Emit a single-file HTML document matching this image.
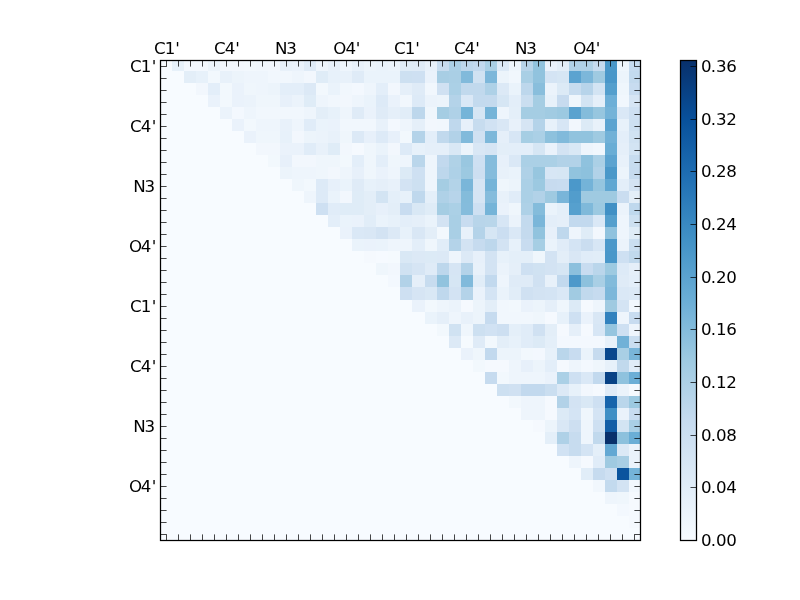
<!DOCTYPE html>
<html lang="en"><head><meta charset="utf-8"><title>heatmap</title>
<style>
html,body{margin:0;padding:0;background:#fff;width:800px;height:600px;overflow:hidden}
svg{display:block}
text{font-family:"DejaVu Sans","Liberation Sans",sans-serif;font-size:16.67px;fill:#000}
.c{shape-rendering:crispEdges}
.t{stroke:#000;stroke-width:1.00;stroke-opacity:0.72;fill:none}
.f{stroke:#000;stroke-width:1.25;fill:none;stroke-linecap:square}
</style></head><body>
<svg width="800" height="600" viewBox="0 0 800 600">
<rect width="800" height="600" fill="#fff"/>
<g class="c">
<rect x="160" y="59" width="481" height="482" fill="#f7fbff"/>
<rect x="172" y="59" width="12" height="12" fill="#e7f1fa"/><rect x="184" y="59" width="24" height="12" fill="#f3f8fe"/><rect x="208" y="59" width="12" height="12" fill="#ecf4fb"/><rect x="220" y="59" width="24" height="12" fill="#f2f7fd"/><rect x="244" y="59" width="12" height="12" fill="#f2f8fd"/><rect x="256" y="59" width="12" height="12" fill="#f1f7fd"/><rect x="268" y="59" width="12" height="12" fill="#f2f7fd"/><rect x="280" y="59" width="12" height="12" fill="#e8f1fa"/><rect x="292" y="59" width="12" height="12" fill="#eaf2fb"/><rect x="304" y="59" width="12" height="12" fill="#dfebf7"/><rect x="316" y="59" width="12" height="12" fill="#eef5fc"/><rect x="328" y="59" width="12" height="12" fill="#e8f1fa"/><rect x="340" y="59" width="12" height="12" fill="#eef5fc"/><rect x="352" y="59" width="12" height="12" fill="#e8f1fa"/><rect x="364" y="59" width="12" height="12" fill="#ecf4fb"/><rect x="376" y="59" width="12" height="12" fill="#eaf3fb"/><rect x="388" y="59" width="12" height="12" fill="#ecf4fb"/><rect x="400" y="59" width="12" height="12" fill="#dfecf7"/><rect x="412" y="59" width="13" height="12" fill="#dfebf7"/><rect x="425" y="59" width="12" height="12" fill="#e8f1fa"/><rect x="437" y="59" width="12" height="12" fill="#c7dcef"/><rect x="449" y="59" width="12" height="12" fill="#abd0e6"/><rect x="461" y="59" width="12" height="12" fill="#bdd7ec"/><rect x="473" y="59" width="12" height="12" fill="#c2d9ee"/><rect x="485" y="59" width="12" height="12" fill="#a9cfe5"/><rect x="497" y="59" width="12" height="12" fill="#ddeaf7"/><rect x="509" y="59" width="12" height="12" fill="#eff6fc"/><rect x="521" y="59" width="12" height="12" fill="#b7d4ea"/><rect x="533" y="59" width="12" height="12" fill="#91c3de"/><rect x="545" y="59" width="12" height="12" fill="#eaf2fb"/><rect x="557" y="59" width="12" height="12" fill="#e3eef8"/><rect x="569" y="59" width="24" height="12" fill="#afd1e7"/><rect x="593" y="59" width="12" height="12" fill="#c6dbef"/><rect x="605" y="59" width="12" height="12" fill="#4a98c9"/><rect x="617" y="59" width="12" height="12" fill="#eff6fc"/><rect x="629" y="59" width="12" height="12" fill="#c6dbef"/>
<rect x="184" y="71" width="12" height="12" fill="#e3eef8"/><rect x="196" y="71" width="12" height="12" fill="#e7f1fa"/><rect x="208" y="71" width="12" height="12" fill="#f2f8fd"/><rect x="220" y="71" width="12" height="12" fill="#e8f1fa"/><rect x="232" y="71" width="12" height="12" fill="#ecf4fb"/><rect x="244" y="71" width="24" height="12" fill="#eef5fc"/><rect x="268" y="71" width="24" height="12" fill="#f1f7fd"/><rect x="292" y="71" width="12" height="12" fill="#eef5fc"/><rect x="304" y="71" width="12" height="12" fill="#f2f7fd"/><rect x="316" y="71" width="12" height="12" fill="#dfecf7"/><rect x="328" y="71" width="12" height="12" fill="#e7f1fa"/><rect x="340" y="71" width="12" height="12" fill="#e8f1fa"/><rect x="352" y="71" width="12" height="12" fill="#dfebf7"/><rect x="364" y="71" width="36" height="12" fill="#eaf3fb"/><rect x="400" y="71" width="12" height="12" fill="#cde0f1"/><rect x="412" y="71" width="13" height="12" fill="#cee0f2"/><rect x="425" y="71" width="12" height="12" fill="#eaf2fb"/><rect x="437" y="71" width="12" height="12" fill="#a8cee4"/><rect x="449" y="71" width="12" height="12" fill="#aacfe5"/><rect x="461" y="71" width="12" height="12" fill="#81badb"/><rect x="473" y="71" width="12" height="12" fill="#d0e2f2"/><rect x="485" y="71" width="12" height="12" fill="#7cb7da"/><rect x="497" y="71" width="12" height="12" fill="#ecf4fb"/><rect x="509" y="71" width="12" height="12" fill="#f1f7fd"/><rect x="521" y="71" width="12" height="12" fill="#a9cfe5"/><rect x="533" y="71" width="12" height="12" fill="#91c3de"/><rect x="545" y="71" width="12" height="12" fill="#d4e4f4"/><rect x="557" y="71" width="12" height="12" fill="#d6e6f4"/><rect x="569" y="71" width="12" height="12" fill="#5ba3d0"/><rect x="581" y="71" width="12" height="12" fill="#7cb7da"/><rect x="593" y="71" width="12" height="12" fill="#9fcae1"/><rect x="605" y="71" width="12" height="12" fill="#4997c9"/><rect x="617" y="71" width="12" height="12" fill="#ecf4fb"/><rect x="629" y="71" width="12" height="12" fill="#c3daee"/>
<rect x="196" y="83" width="12" height="12" fill="#f2f7fd"/><rect x="208" y="83" width="12" height="12" fill="#e3eef9"/><rect x="220" y="83" width="12" height="12" fill="#f2f8fd"/><rect x="232" y="83" width="12" height="12" fill="#eaf2fb"/><rect x="244" y="83" width="12" height="12" fill="#eff6fc"/><rect x="256" y="83" width="12" height="12" fill="#eef5fc"/><rect x="268" y="83" width="12" height="12" fill="#ecf4fb"/><rect x="280" y="83" width="24" height="12" fill="#e3eef9"/><rect x="304" y="83" width="12" height="12" fill="#dce9f6"/><rect x="316" y="83" width="12" height="12" fill="#f2f8fd"/><rect x="328" y="83" width="12" height="12" fill="#eaf3fb"/><rect x="340" y="83" width="12" height="12" fill="#f1f7fd"/><rect x="352" y="83" width="12" height="12" fill="#f3f8fe"/><rect x="364" y="83" width="12" height="12" fill="#eef5fc"/><rect x="376" y="83" width="12" height="12" fill="#e3eef9"/><rect x="388" y="83" width="12" height="12" fill="#f2f7fd"/><rect x="400" y="83" width="12" height="12" fill="#e5eff9"/><rect x="412" y="83" width="13" height="12" fill="#dfebf7"/><rect x="425" y="83" width="12" height="12" fill="#f1f7fd"/><rect x="437" y="83" width="12" height="12" fill="#d0e1f2"/><rect x="449" y="83" width="12" height="12" fill="#abd0e6"/><rect x="461" y="83" width="24" height="12" fill="#c1d9ed"/><rect x="485" y="83" width="12" height="12" fill="#aed1e7"/><rect x="497" y="83" width="12" height="12" fill="#dce9f6"/><rect x="509" y="83" width="12" height="12" fill="#eaf3fb"/><rect x="521" y="83" width="12" height="12" fill="#bdd7ec"/><rect x="533" y="83" width="12" height="12" fill="#89bedc"/><rect x="545" y="83" width="12" height="12" fill="#ebf3fb"/><rect x="557" y="83" width="12" height="12" fill="#dceaf6"/><rect x="569" y="83" width="12" height="12" fill="#c7dcef"/><rect x="581" y="83" width="12" height="12" fill="#b7d4ea"/><rect x="593" y="83" width="12" height="12" fill="#d3e4f3"/><rect x="605" y="83" width="12" height="12" fill="#549fcd"/><rect x="617" y="83" width="12" height="12" fill="#eff6fc"/><rect x="629" y="83" width="12" height="12" fill="#c8dcf0"/>
<rect x="208" y="95" width="12" height="12" fill="#eaf2fb"/><rect x="220" y="95" width="12" height="12" fill="#f2f8fd"/><rect x="232" y="95" width="12" height="12" fill="#eaf2fb"/><rect x="244" y="95" width="12" height="12" fill="#ebf3fb"/><rect x="256" y="95" width="24" height="12" fill="#eff6fc"/><rect x="280" y="95" width="12" height="12" fill="#e7f0fa"/><rect x="292" y="95" width="12" height="12" fill="#ebf3fb"/><rect x="304" y="95" width="12" height="12" fill="#dfecf7"/><rect x="316" y="95" width="12" height="12" fill="#eef5fc"/><rect x="328" y="95" width="12" height="12" fill="#f1f7fd"/><rect x="340" y="95" width="12" height="12" fill="#f2f7fd"/><rect x="352" y="95" width="12" height="12" fill="#eef5fc"/><rect x="364" y="95" width="12" height="12" fill="#eaf3fb"/><rect x="376" y="95" width="12" height="12" fill="#ddeaf7"/><rect x="388" y="95" width="12" height="12" fill="#eaf2fb"/><rect x="400" y="95" width="12" height="12" fill="#f1f7fd"/><rect x="412" y="95" width="13" height="12" fill="#ddeaf7"/><rect x="425" y="95" width="12" height="12" fill="#ebf3fb"/><rect x="437" y="95" width="12" height="12" fill="#ecf4fb"/><rect x="449" y="95" width="12" height="12" fill="#b4d3e9"/><rect x="461" y="95" width="12" height="12" fill="#dae8f6"/><rect x="473" y="95" width="12" height="12" fill="#c3daee"/><rect x="485" y="95" width="12" height="12" fill="#c4daee"/><rect x="497" y="95" width="12" height="12" fill="#d6e6f4"/><rect x="509" y="95" width="12" height="12" fill="#e3eef9"/><rect x="521" y="95" width="12" height="12" fill="#cadef0"/><rect x="533" y="95" width="12" height="12" fill="#a5cde3"/><rect x="545" y="95" width="12" height="12" fill="#e7f1fa"/><rect x="557" y="95" width="12" height="12" fill="#c7dbef"/><rect x="569" y="95" width="12" height="12" fill="#eff6fc"/><rect x="581" y="95" width="12" height="12" fill="#d3e4f3"/><rect x="593" y="95" width="12" height="12" fill="#e5eff9"/><rect x="605" y="95" width="12" height="12" fill="#6dafd7"/><rect x="617" y="95" width="12" height="12" fill="#f1f7fd"/><rect x="629" y="95" width="12" height="12" fill="#d6e5f4"/>
<rect x="220" y="107" width="12" height="12" fill="#ebf3fb"/><rect x="232" y="107" width="12" height="12" fill="#f3f8fe"/><rect x="244" y="107" width="12" height="12" fill="#eef5fc"/><rect x="256" y="107" width="48" height="12" fill="#f1f7fd"/><rect x="304" y="107" width="12" height="12" fill="#eef5fc"/><rect x="316" y="107" width="12" height="12" fill="#e3eef8"/><rect x="328" y="107" width="12" height="12" fill="#e7f1fa"/><rect x="340" y="107" width="12" height="12" fill="#eef5fc"/><rect x="352" y="107" width="12" height="12" fill="#dfebf7"/><rect x="364" y="107" width="12" height="12" fill="#eaf2fb"/><rect x="376" y="107" width="12" height="12" fill="#dfebf7"/><rect x="388" y="107" width="12" height="12" fill="#e5eff9"/><rect x="400" y="107" width="12" height="12" fill="#e1edf8"/><rect x="412" y="107" width="13" height="12" fill="#bdd7ec"/><rect x="425" y="107" width="12" height="12" fill="#eff6fc"/><rect x="437" y="107" width="12" height="12" fill="#a5cde3"/><rect x="449" y="107" width="12" height="12" fill="#afd1e7"/><rect x="461" y="107" width="12" height="12" fill="#75b4d8"/><rect x="473" y="107" width="12" height="12" fill="#d6e6f4"/><rect x="485" y="107" width="12" height="12" fill="#75b4d8"/><rect x="497" y="107" width="12" height="12" fill="#eef5fc"/><rect x="509" y="107" width="12" height="12" fill="#e4eff9"/><rect x="521" y="107" width="24" height="12" fill="#a5cde3"/><rect x="545" y="107" width="12" height="12" fill="#a1cbe2"/><rect x="557" y="107" width="12" height="12" fill="#9cc9e1"/><rect x="569" y="107" width="12" height="12" fill="#5aa2cf"/><rect x="581" y="107" width="12" height="12" fill="#84bcdb"/><rect x="593" y="107" width="12" height="12" fill="#97c6df"/><rect x="605" y="107" width="12" height="12" fill="#74b3d8"/><rect x="617" y="107" width="12" height="12" fill="#dae8f6"/><rect x="629" y="107" width="12" height="12" fill="#cee0f2"/>
<rect x="232" y="119" width="12" height="12" fill="#eaf2fb"/><rect x="244" y="119" width="12" height="12" fill="#f2f8fd"/><rect x="256" y="119" width="24" height="12" fill="#eef5fc"/><rect x="280" y="119" width="12" height="12" fill="#e8f1fa"/><rect x="292" y="119" width="12" height="12" fill="#eef5fc"/><rect x="304" y="119" width="12" height="12" fill="#e0ecf8"/><rect x="316" y="119" width="12" height="12" fill="#eaf3fb"/><rect x="328" y="119" width="12" height="12" fill="#eaf2fb"/><rect x="340" y="119" width="36" height="12" fill="#f1f7fd"/><rect x="376" y="119" width="12" height="12" fill="#e8f1fa"/><rect x="388" y="119" width="12" height="12" fill="#f3f8fe"/><rect x="400" y="119" width="12" height="12" fill="#eef5fc"/><rect x="412" y="119" width="13" height="12" fill="#e5eff9"/><rect x="425" y="119" width="12" height="12" fill="#f2f7fd"/><rect x="437" y="119" width="12" height="12" fill="#f1f7fd"/><rect x="449" y="119" width="12" height="12" fill="#bfd8ed"/><rect x="461" y="119" width="12" height="12" fill="#e7f0fa"/><rect x="473" y="119" width="12" height="12" fill="#c7dcef"/><rect x="485" y="119" width="12" height="12" fill="#d1e2f3"/><rect x="497" y="119" width="12" height="12" fill="#d9e7f5"/><rect x="509" y="119" width="12" height="12" fill="#e8f1fa"/><rect x="521" y="119" width="12" height="12" fill="#d6e5f4"/><rect x="533" y="119" width="12" height="12" fill="#b4d3e9"/><rect x="545" y="119" width="12" height="12" fill="#e7f1fa"/><rect x="557" y="119" width="12" height="12" fill="#d7e6f5"/><rect x="569" y="119" width="12" height="12" fill="#f2f7fd"/><rect x="581" y="119" width="12" height="12" fill="#dceaf6"/><rect x="593" y="119" width="12" height="12" fill="#e8f1fa"/><rect x="605" y="119" width="12" height="12" fill="#5ba3d0"/><rect x="617" y="119" width="12" height="12" fill="#e7f1fa"/><rect x="629" y="119" width="12" height="12" fill="#cde0f1"/>
<rect x="244" y="131" width="12" height="12" fill="#eaf2fb"/><rect x="256" y="131" width="24" height="12" fill="#eff6fc"/><rect x="280" y="131" width="12" height="12" fill="#e7f1fa"/><rect x="292" y="131" width="12" height="12" fill="#f2f7fd"/><rect x="304" y="131" width="12" height="12" fill="#ecf4fb"/><rect x="316" y="131" width="12" height="12" fill="#ebf3fb"/><rect x="328" y="131" width="12" height="12" fill="#e8f1fa"/><rect x="340" y="131" width="12" height="12" fill="#eff6fc"/><rect x="352" y="131" width="12" height="12" fill="#dce9f6"/><rect x="364" y="131" width="12" height="12" fill="#e7f0fa"/><rect x="376" y="131" width="12" height="12" fill="#ddeaf7"/><rect x="388" y="131" width="12" height="12" fill="#e7f0fa"/><rect x="400" y="131" width="12" height="12" fill="#f2f8fd"/><rect x="412" y="131" width="13" height="12" fill="#b4d3e9"/><rect x="425" y="131" width="12" height="12" fill="#e3eef9"/><rect x="437" y="131" width="12" height="12" fill="#c1d9ed"/><rect x="449" y="131" width="12" height="12" fill="#b2d2e8"/><rect x="461" y="131" width="12" height="12" fill="#81badb"/><rect x="473" y="131" width="12" height="12" fill="#d0e1f2"/><rect x="485" y="131" width="12" height="12" fill="#7db8da"/><rect x="497" y="131" width="12" height="12" fill="#e5eff9"/><rect x="509" y="131" width="12" height="12" fill="#d7e6f5"/><rect x="521" y="131" width="12" height="12" fill="#a6cee4"/><rect x="533" y="131" width="12" height="12" fill="#abd0e6"/><rect x="545" y="131" width="12" height="12" fill="#8dc1dd"/><rect x="557" y="131" width="12" height="12" fill="#81badb"/><rect x="569" y="131" width="24" height="12" fill="#91c3de"/><rect x="593" y="131" width="12" height="12" fill="#9fcae1"/><rect x="605" y="131" width="12" height="12" fill="#71b1d7"/><rect x="617" y="131" width="12" height="12" fill="#e3eef9"/><rect x="629" y="131" width="12" height="12" fill="#d0e2f2"/>
<rect x="256" y="143" width="24" height="12" fill="#f2f7fd"/><rect x="280" y="143" width="24" height="12" fill="#eaf2fb"/><rect x="304" y="143" width="12" height="12" fill="#e0ecf8"/><rect x="316" y="143" width="12" height="12" fill="#e8f1fa"/><rect x="328" y="143" width="12" height="12" fill="#dfecf7"/><rect x="340" y="143" width="12" height="12" fill="#f2f7fd"/><rect x="352" y="143" width="12" height="12" fill="#f5f9fe"/><rect x="364" y="143" width="12" height="12" fill="#eff6fc"/><rect x="376" y="143" width="12" height="12" fill="#eaf3fb"/><rect x="388" y="143" width="12" height="12" fill="#f2f7fd"/><rect x="400" y="143" width="12" height="12" fill="#ddeaf7"/><rect x="412" y="143" width="13" height="12" fill="#e7f1fa"/><rect x="425" y="143" width="24" height="12" fill="#e5eff9"/><rect x="449" y="143" width="12" height="12" fill="#d9e8f5"/><rect x="461" y="143" width="12" height="12" fill="#ecf4fb"/><rect x="473" y="143" width="12" height="12" fill="#d9e7f5"/><rect x="485" y="143" width="12" height="12" fill="#d6e5f4"/><rect x="497" y="143" width="12" height="12" fill="#e3eef8"/><rect x="509" y="143" width="24" height="12" fill="#e3eef9"/><rect x="533" y="143" width="12" height="12" fill="#d6e6f4"/><rect x="545" y="143" width="12" height="12" fill="#eaf2fb"/><rect x="557" y="143" width="12" height="12" fill="#d3e3f3"/><rect x="569" y="143" width="12" height="12" fill="#d9e8f5"/><rect x="581" y="143" width="12" height="12" fill="#eef5fc"/><rect x="593" y="143" width="12" height="12" fill="#f1f7fd"/><rect x="605" y="143" width="12" height="12" fill="#69add5"/><rect x="617" y="143" width="12" height="12" fill="#e5eff9"/><rect x="629" y="143" width="12" height="12" fill="#d3e4f3"/>
<rect x="268" y="155" width="12" height="12" fill="#f2f8fd"/><rect x="280" y="155" width="12" height="12" fill="#e7f0fa"/><rect x="292" y="155" width="24" height="12" fill="#f2f7fd"/><rect x="316" y="155" width="24" height="12" fill="#eff6fc"/><rect x="340" y="155" width="12" height="12" fill="#f2f8fd"/><rect x="352" y="155" width="12" height="12" fill="#e3eef9"/><rect x="364" y="155" width="12" height="12" fill="#eff6fc"/><rect x="376" y="155" width="12" height="12" fill="#e3eef9"/><rect x="388" y="155" width="12" height="12" fill="#eff6fc"/><rect x="400" y="155" width="12" height="12" fill="#eef5fc"/><rect x="412" y="155" width="13" height="12" fill="#bad6eb"/><rect x="425" y="155" width="12" height="12" fill="#eef5fc"/><rect x="437" y="155" width="12" height="12" fill="#c2d9ee"/><rect x="449" y="155" width="12" height="12" fill="#b0d2e7"/><rect x="461" y="155" width="12" height="12" fill="#99c7e0"/><rect x="473" y="155" width="12" height="12" fill="#cee0f2"/><rect x="485" y="155" width="12" height="12" fill="#85bcdc"/><rect x="497" y="155" width="12" height="12" fill="#e7f0fa"/><rect x="509" y="155" width="12" height="12" fill="#dae8f6"/><rect x="521" y="155" width="36" height="12" fill="#abd0e6"/><rect x="557" y="155" width="24" height="12" fill="#b2d2e8"/><rect x="581" y="155" width="12" height="12" fill="#8fc2de"/><rect x="593" y="155" width="12" height="12" fill="#abd0e6"/><rect x="605" y="155" width="12" height="12" fill="#5ba3d0"/><rect x="617" y="155" width="12" height="12" fill="#e8f1fa"/><rect x="629" y="155" width="12" height="12" fill="#c7dcef"/>
<rect x="280" y="167" width="12" height="12" fill="#ecf4fb"/><rect x="292" y="167" width="24" height="12" fill="#eef5fc"/><rect x="316" y="167" width="12" height="12" fill="#eff6fc"/><rect x="328" y="167" width="12" height="12" fill="#f2f7fd"/><rect x="340" y="167" width="12" height="12" fill="#eef5fc"/><rect x="352" y="167" width="12" height="12" fill="#e7f0fa"/><rect x="364" y="167" width="12" height="12" fill="#eff6fc"/><rect x="376" y="167" width="12" height="12" fill="#eaf2fb"/><rect x="388" y="167" width="12" height="12" fill="#eef5fc"/><rect x="400" y="167" width="12" height="12" fill="#dceaf6"/><rect x="412" y="167" width="13" height="12" fill="#cee0f2"/><rect x="425" y="167" width="12" height="12" fill="#eef5fc"/><rect x="437" y="167" width="12" height="12" fill="#bdd7ec"/><rect x="449" y="167" width="12" height="12" fill="#aed1e7"/><rect x="461" y="167" width="12" height="12" fill="#9cc9e1"/><rect x="473" y="167" width="12" height="12" fill="#cddff1"/><rect x="485" y="167" width="12" height="12" fill="#85bcdc"/><rect x="497" y="167" width="12" height="12" fill="#e8f1fa"/><rect x="509" y="167" width="12" height="12" fill="#eaf3fb"/><rect x="521" y="167" width="12" height="12" fill="#afd1e7"/><rect x="533" y="167" width="12" height="12" fill="#97c6df"/><rect x="545" y="167" width="12" height="12" fill="#d7e6f5"/><rect x="557" y="167" width="12" height="12" fill="#d6e6f4"/><rect x="569" y="167" width="12" height="12" fill="#91c3de"/><rect x="581" y="167" width="12" height="12" fill="#8dc1dd"/><rect x="593" y="167" width="12" height="12" fill="#b2d2e8"/><rect x="605" y="167" width="12" height="12" fill="#4a98c9"/><rect x="617" y="167" width="12" height="12" fill="#ecf4fb"/><rect x="629" y="167" width="12" height="12" fill="#c6dbef"/>
<rect x="292" y="179" width="12" height="12" fill="#eff6fc"/><rect x="304" y="179" width="12" height="12" fill="#f2f8fd"/><rect x="316" y="179" width="12" height="12" fill="#ddeaf7"/><rect x="328" y="179" width="12" height="12" fill="#e7f0fa"/><rect x="340" y="179" width="12" height="12" fill="#eaf3fb"/><rect x="352" y="179" width="12" height="12" fill="#dfebf7"/><rect x="364" y="179" width="12" height="12" fill="#e7f1fa"/><rect x="376" y="179" width="12" height="12" fill="#e5eff9"/><rect x="388" y="179" width="12" height="12" fill="#e8f1fa"/><rect x="400" y="179" width="12" height="12" fill="#d3e3f3"/><rect x="412" y="179" width="13" height="12" fill="#cde0f1"/><rect x="425" y="179" width="12" height="12" fill="#eef5fc"/><rect x="437" y="179" width="12" height="12" fill="#a5cde3"/><rect x="449" y="179" width="12" height="12" fill="#b3d3e8"/><rect x="461" y="179" width="12" height="12" fill="#7ab6d9"/><rect x="473" y="179" width="12" height="12" fill="#d6e5f4"/><rect x="485" y="179" width="12" height="12" fill="#75b4d8"/><rect x="497" y="179" width="12" height="12" fill="#eff6fc"/><rect x="509" y="179" width="12" height="12" fill="#ecf4fb"/><rect x="521" y="179" width="12" height="12" fill="#abd0e6"/><rect x="533" y="179" width="12" height="12" fill="#9cc9e1"/><rect x="545" y="179" width="12" height="12" fill="#c7dbef"/><rect x="557" y="179" width="12" height="12" fill="#c8dcf0"/><rect x="569" y="179" width="12" height="12" fill="#4b98ca"/><rect x="581" y="179" width="12" height="12" fill="#74b3d8"/><rect x="593" y="179" width="12" height="12" fill="#95c5df"/><rect x="605" y="179" width="12" height="12" fill="#60a7d2"/><rect x="617" y="179" width="12" height="12" fill="#e3eef9"/><rect x="629" y="179" width="12" height="12" fill="#d3e3f3"/>
<rect x="304" y="191" width="12" height="12" fill="#eef5fc"/><rect x="316" y="191" width="12" height="12" fill="#ddeaf7"/><rect x="328" y="191" width="12" height="12" fill="#eaf3fb"/><rect x="340" y="191" width="12" height="12" fill="#f2f7fd"/><rect x="352" y="191" width="12" height="12" fill="#dfecf7"/><rect x="364" y="191" width="12" height="12" fill="#e3eef8"/><rect x="376" y="191" width="12" height="12" fill="#d3e4f3"/><rect x="388" y="191" width="12" height="12" fill="#e4eff9"/><rect x="400" y="191" width="12" height="12" fill="#e7f1fa"/><rect x="412" y="191" width="13" height="12" fill="#bfd8ed"/><rect x="425" y="191" width="12" height="12" fill="#e4eff9"/><rect x="437" y="191" width="12" height="12" fill="#afd1e7"/><rect x="449" y="191" width="12" height="12" fill="#b7d4ea"/><rect x="461" y="191" width="12" height="12" fill="#84bcdb"/><rect x="473" y="191" width="12" height="12" fill="#d6e5f4"/><rect x="485" y="191" width="12" height="12" fill="#85bcdc"/><rect x="497" y="191" width="12" height="12" fill="#e8f1fa"/><rect x="509" y="191" width="12" height="12" fill="#e0ecf8"/><rect x="521" y="191" width="12" height="12" fill="#abd0e6"/><rect x="533" y="191" width="12" height="12" fill="#b2d2e8"/><rect x="545" y="191" width="12" height="12" fill="#9fcae1"/><rect x="557" y="191" width="12" height="12" fill="#79b5d9"/><rect x="569" y="191" width="12" height="12" fill="#529dcc"/><rect x="581" y="191" width="36" height="12" fill="#9fcae1"/><rect x="617" y="191" width="12" height="12" fill="#caddf0"/><rect x="629" y="191" width="12" height="12" fill="#e3eef8"/>
<rect x="316" y="203" width="12" height="12" fill="#cee0f2"/><rect x="328" y="203" width="12" height="12" fill="#e0ecf8"/><rect x="340" y="203" width="24" height="12" fill="#dfecf7"/><rect x="364" y="203" width="12" height="12" fill="#e3eef8"/><rect x="376" y="203" width="12" height="12" fill="#e7f0fa"/><rect x="388" y="203" width="12" height="12" fill="#e3eef8"/><rect x="400" y="203" width="12" height="12" fill="#c8dcf0"/><rect x="412" y="203" width="13" height="12" fill="#d9e8f5"/><rect x="425" y="203" width="12" height="12" fill="#dfecf7"/><rect x="437" y="203" width="12" height="12" fill="#a5cde3"/><rect x="449" y="203" width="12" height="12" fill="#abd0e6"/><rect x="461" y="203" width="12" height="12" fill="#85bcdc"/><rect x="473" y="203" width="12" height="12" fill="#cee0f2"/><rect x="485" y="203" width="12" height="12" fill="#75b4d8"/><rect x="497" y="203" width="12" height="12" fill="#eaf2fb"/><rect x="509" y="203" width="12" height="12" fill="#eff6fc"/><rect x="521" y="203" width="12" height="12" fill="#aed1e7"/><rect x="533" y="203" width="12" height="12" fill="#84bcdb"/><rect x="545" y="203" width="12" height="12" fill="#eaf3fb"/><rect x="557" y="203" width="12" height="12" fill="#e4eff9"/><rect x="569" y="203" width="12" height="12" fill="#56a0ce"/><rect x="581" y="203" width="12" height="12" fill="#7fb9da"/><rect x="593" y="203" width="12" height="12" fill="#9cc9e1"/><rect x="605" y="203" width="12" height="12" fill="#4090c5"/><rect x="617" y="203" width="12" height="12" fill="#ebf3fb"/><rect x="629" y="203" width="12" height="12" fill="#bfd8ed"/>
<rect x="328" y="215" width="12" height="12" fill="#e3eef9"/><rect x="340" y="215" width="12" height="12" fill="#eaf3fb"/><rect x="352" y="215" width="12" height="12" fill="#eaf2fb"/><rect x="364" y="215" width="12" height="12" fill="#e1edf8"/><rect x="376" y="215" width="12" height="12" fill="#eaf3fb"/><rect x="388" y="215" width="12" height="12" fill="#e7f1fa"/><rect x="400" y="215" width="12" height="12" fill="#e3eef9"/><rect x="412" y="215" width="13" height="12" fill="#e5eff9"/><rect x="425" y="215" width="12" height="12" fill="#eaf3fb"/><rect x="437" y="215" width="12" height="12" fill="#d3e3f3"/><rect x="449" y="215" width="12" height="12" fill="#a9cfe5"/><rect x="461" y="215" width="12" height="12" fill="#c8dcf0"/><rect x="473" y="215" width="12" height="12" fill="#b8d5ea"/><rect x="485" y="215" width="12" height="12" fill="#b9d6ea"/><rect x="497" y="215" width="12" height="12" fill="#d7e6f5"/><rect x="509" y="215" width="12" height="12" fill="#ebf3fb"/><rect x="521" y="215" width="12" height="12" fill="#c3daee"/><rect x="533" y="215" width="12" height="12" fill="#7ab6d9"/><rect x="545" y="215" width="12" height="12" fill="#e3eef9"/><rect x="557" y="215" width="12" height="12" fill="#e5eff9"/><rect x="569" y="215" width="24" height="12" fill="#c2d9ee"/><rect x="593" y="215" width="12" height="12" fill="#dae8f6"/><rect x="605" y="215" width="12" height="12" fill="#549fcd"/><rect x="617" y="215" width="12" height="12" fill="#eef5fc"/><rect x="629" y="215" width="12" height="12" fill="#cde0f1"/>
<rect x="340" y="227" width="12" height="12" fill="#eaf2fb"/><rect x="352" y="227" width="12" height="12" fill="#dae8f6"/><rect x="364" y="227" width="12" height="12" fill="#d9e7f5"/><rect x="376" y="227" width="12" height="12" fill="#d3e3f3"/><rect x="388" y="227" width="12" height="12" fill="#dce9f6"/><rect x="400" y="227" width="12" height="12" fill="#e7f1fa"/><rect x="412" y="227" width="13" height="12" fill="#d9e7f5"/><rect x="425" y="227" width="12" height="12" fill="#e3eef8"/><rect x="437" y="227" width="12" height="12" fill="#f2f8fd"/><rect x="449" y="227" width="12" height="12" fill="#a9cfe5"/><rect x="461" y="227" width="12" height="12" fill="#e8f1fa"/><rect x="473" y="227" width="12" height="12" fill="#b4d3e9"/><rect x="485" y="227" width="12" height="12" fill="#d6e6f4"/><rect x="497" y="227" width="12" height="12" fill="#cbdef1"/><rect x="509" y="227" width="12" height="12" fill="#dae8f6"/><rect x="521" y="227" width="12" height="12" fill="#c4daee"/><rect x="533" y="227" width="12" height="12" fill="#91c3de"/><rect x="545" y="227" width="12" height="12" fill="#e7f0fa"/><rect x="557" y="227" width="12" height="12" fill="#bfd8ed"/><rect x="569" y="227" width="12" height="12" fill="#eef5fc"/><rect x="581" y="227" width="12" height="12" fill="#dfecf7"/><rect x="593" y="227" width="12" height="12" fill="#f2f7fd"/><rect x="605" y="227" width="12" height="12" fill="#8fc2de"/><rect x="617" y="227" width="12" height="12" fill="#eef5fc"/><rect x="629" y="227" width="12" height="12" fill="#dfecf7"/>
<rect x="352" y="239" width="12" height="12" fill="#eaf3fb"/><rect x="364" y="239" width="12" height="12" fill="#eaf2fb"/><rect x="376" y="239" width="12" height="12" fill="#eaf3fb"/><rect x="388" y="239" width="24" height="12" fill="#eef5fc"/><rect x="412" y="239" width="13" height="12" fill="#e3eef9"/><rect x="425" y="239" width="12" height="12" fill="#eff6fc"/><rect x="437" y="239" width="12" height="12" fill="#e1edf8"/><rect x="449" y="239" width="12" height="12" fill="#b4d3e9"/><rect x="461" y="239" width="12" height="12" fill="#d3e3f3"/><rect x="473" y="239" width="12" height="12" fill="#c6dbef"/><rect x="485" y="239" width="12" height="12" fill="#bdd7ec"/><rect x="497" y="239" width="12" height="12" fill="#d3e3f3"/><rect x="509" y="239" width="12" height="12" fill="#e7f1fa"/><rect x="521" y="239" width="12" height="12" fill="#c8dcf0"/><rect x="533" y="239" width="12" height="12" fill="#a6cee4"/><rect x="545" y="239" width="12" height="12" fill="#eaf3fb"/><rect x="557" y="239" width="12" height="12" fill="#e0ecf8"/><rect x="569" y="239" width="12" height="12" fill="#d4e4f4"/><rect x="581" y="239" width="12" height="12" fill="#caddf0"/><rect x="593" y="239" width="12" height="12" fill="#d7e6f5"/><rect x="605" y="239" width="12" height="12" fill="#4b98ca"/><rect x="617" y="239" width="12" height="12" fill="#ebf3fb"/><rect x="629" y="239" width="12" height="12" fill="#cadef0"/>
<rect x="364" y="251" width="12" height="12" fill="#f5f9fe"/><rect x="376" y="251" width="12" height="12" fill="#f6faff"/><rect x="388" y="251" width="12" height="12" fill="#f5fafe"/><rect x="400" y="251" width="12" height="12" fill="#d9e8f5"/><rect x="412" y="251" width="13" height="12" fill="#dce9f6"/><rect x="425" y="251" width="12" height="12" fill="#dceaf6"/><rect x="437" y="251" width="12" height="12" fill="#dce9f6"/><rect x="449" y="251" width="12" height="12" fill="#eef5fc"/><rect x="461" y="251" width="12" height="12" fill="#dce9f6"/><rect x="473" y="251" width="12" height="12" fill="#e7f0fa"/><rect x="485" y="251" width="12" height="12" fill="#d3e3f3"/><rect x="497" y="251" width="12" height="12" fill="#e7f1fa"/><rect x="509" y="251" width="24" height="12" fill="#e4eff9"/><rect x="533" y="251" width="12" height="12" fill="#eff6fc"/><rect x="545" y="251" width="12" height="12" fill="#d3e3f3"/><rect x="557" y="251" width="12" height="12" fill="#e3eef8"/><rect x="569" y="251" width="12" height="12" fill="#d9e7f5"/><rect x="581" y="251" width="12" height="12" fill="#e0ecf8"/><rect x="593" y="251" width="12" height="12" fill="#e1edf8"/><rect x="605" y="251" width="12" height="12" fill="#4997c9"/><rect x="617" y="251" width="12" height="12" fill="#cee0f2"/><rect x="629" y="251" width="12" height="12" fill="#c1d9ed"/>
<rect x="376" y="263" width="12" height="12" fill="#eff6fc"/><rect x="388" y="263" width="12" height="12" fill="#f2f7fd"/><rect x="400" y="263" width="12" height="12" fill="#d0e2f2"/><rect x="412" y="263" width="13" height="12" fill="#d6e5f4"/><rect x="425" y="263" width="12" height="12" fill="#dfebf7"/><rect x="437" y="263" width="12" height="12" fill="#bdd7ec"/><rect x="449" y="263" width="12" height="12" fill="#d6e5f4"/><rect x="461" y="263" width="12" height="12" fill="#b4d3e9"/><rect x="473" y="263" width="12" height="12" fill="#e8f1fa"/><rect x="485" y="263" width="12" height="12" fill="#d3e3f3"/><rect x="497" y="263" width="12" height="12" fill="#ebf3fb"/><rect x="509" y="263" width="12" height="12" fill="#e5eff9"/><rect x="521" y="263" width="12" height="12" fill="#cee0f2"/><rect x="533" y="263" width="12" height="12" fill="#d0e2f2"/><rect x="545" y="263" width="12" height="12" fill="#d3e3f3"/><rect x="557" y="263" width="12" height="12" fill="#d6e6f4"/><rect x="569" y="263" width="12" height="12" fill="#8cc0dd"/><rect x="581" y="263" width="12" height="12" fill="#c8dcf0"/><rect x="593" y="263" width="12" height="12" fill="#bad6eb"/><rect x="605" y="263" width="12" height="12" fill="#9dcae1"/><rect x="617" y="263" width="12" height="12" fill="#ddeaf7"/><rect x="629" y="263" width="12" height="12" fill="#e5eff9"/>
<rect x="388" y="275" width="12" height="12" fill="#f3f8fe"/><rect x="400" y="275" width="12" height="12" fill="#b2d2e8"/><rect x="412" y="275" width="13" height="12" fill="#e5eff9"/><rect x="425" y="275" width="12" height="12" fill="#c7dcef"/><rect x="437" y="275" width="12" height="12" fill="#91c3de"/><rect x="449" y="275" width="12" height="12" fill="#d6e6f4"/><rect x="461" y="275" width="12" height="12" fill="#81badb"/><rect x="473" y="275" width="12" height="12" fill="#e1edf8"/><rect x="485" y="275" width="12" height="12" fill="#c2d9ee"/><rect x="497" y="275" width="12" height="12" fill="#eef5fc"/><rect x="509" y="275" width="24" height="12" fill="#dfebf7"/><rect x="533" y="275" width="12" height="12" fill="#d0e1f2"/><rect x="545" y="275" width="12" height="12" fill="#e8f1fa"/><rect x="557" y="275" width="12" height="12" fill="#c2d9ee"/><rect x="569" y="275" width="12" height="12" fill="#4d99ca"/><rect x="581" y="275" width="12" height="12" fill="#8dc1dd"/><rect x="593" y="275" width="12" height="12" fill="#a9cfe5"/><rect x="605" y="275" width="12" height="12" fill="#82bbdb"/><rect x="617" y="275" width="12" height="12" fill="#dfebf7"/><rect x="629" y="275" width="12" height="12" fill="#e3eef9"/>
<rect x="400" y="287" width="12" height="13" fill="#cee0f2"/><rect x="412" y="287" width="13" height="13" fill="#d6e5f4"/><rect x="425" y="287" width="12" height="13" fill="#d9e8f5"/><rect x="437" y="287" width="12" height="13" fill="#bfd8ed"/><rect x="449" y="287" width="12" height="13" fill="#d3e3f3"/><rect x="461" y="287" width="12" height="13" fill="#b4d3e9"/><rect x="473" y="287" width="12" height="13" fill="#eaf2fb"/><rect x="485" y="287" width="12" height="13" fill="#d4e4f4"/><rect x="497" y="287" width="12" height="13" fill="#eaf3fb"/><rect x="509" y="287" width="12" height="13" fill="#e1edf8"/><rect x="521" y="287" width="12" height="13" fill="#d0e1f2"/><rect x="533" y="287" width="12" height="13" fill="#d3e3f3"/><rect x="545" y="287" width="12" height="13" fill="#d4e4f4"/><rect x="557" y="287" width="12" height="13" fill="#dae8f6"/><rect x="569" y="287" width="12" height="13" fill="#a1cbe2"/><rect x="581" y="287" width="12" height="13" fill="#c1d9ed"/><rect x="593" y="287" width="12" height="13" fill="#c6dbef"/><rect x="605" y="287" width="12" height="13" fill="#7cb7da"/><rect x="617" y="287" width="12" height="13" fill="#dae8f6"/><rect x="629" y="287" width="12" height="13" fill="#dce9f6"/>
<rect x="412" y="300" width="13" height="12" fill="#eaf2fb"/><rect x="425" y="300" width="12" height="12" fill="#f2f8fd"/><rect x="437" y="300" width="12" height="12" fill="#eef5fc"/><rect x="449" y="300" width="12" height="12" fill="#ebf3fb"/><rect x="461" y="300" width="12" height="12" fill="#f5f9fe"/><rect x="473" y="300" width="12" height="12" fill="#ecf4fb"/><rect x="485" y="300" width="12" height="12" fill="#e3eef8"/><rect x="497" y="300" width="12" height="12" fill="#f1f7fd"/><rect x="509" y="300" width="12" height="12" fill="#f2f8fd"/><rect x="521" y="300" width="12" height="12" fill="#eaf2fb"/><rect x="533" y="300" width="12" height="12" fill="#ecf4fb"/><rect x="545" y="300" width="12" height="12" fill="#e5eff9"/><rect x="557" y="300" width="12" height="12" fill="#eff6fc"/><rect x="569" y="300" width="12" height="12" fill="#dceaf6"/><rect x="581" y="300" width="12" height="12" fill="#f5f9fe"/><rect x="593" y="300" width="12" height="12" fill="#eef5fc"/><rect x="605" y="300" width="12" height="12" fill="#9fcae1"/><rect x="617" y="300" width="12" height="12" fill="#d4e4f4"/><rect x="629" y="300" width="12" height="12" fill="#f1f7fd"/>
<rect x="425" y="312" width="12" height="12" fill="#eaf3fb"/><rect x="437" y="312" width="12" height="12" fill="#e5eff9"/><rect x="449" y="312" width="12" height="12" fill="#eef5fc"/><rect x="461" y="312" width="12" height="12" fill="#e8f1fa"/><rect x="473" y="312" width="12" height="12" fill="#ecf4fb"/><rect x="485" y="312" width="12" height="12" fill="#c6dbef"/><rect x="497" y="312" width="36" height="12" fill="#f1f7fd"/><rect x="533" y="312" width="12" height="12" fill="#eff6fc"/><rect x="545" y="312" width="12" height="12" fill="#f5f9fe"/><rect x="557" y="312" width="12" height="12" fill="#e7f1fa"/><rect x="569" y="312" width="12" height="12" fill="#cee0f2"/><rect x="581" y="312" width="12" height="12" fill="#eaf2fb"/><rect x="593" y="312" width="12" height="12" fill="#d9e7f5"/><rect x="605" y="312" width="12" height="12" fill="#3282be"/><rect x="617" y="312" width="12" height="12" fill="#eef5fc"/><rect x="629" y="312" width="12" height="12" fill="#c8dcf0"/>
<rect x="437" y="324" width="12" height="12" fill="#f2f8fd"/><rect x="449" y="324" width="12" height="12" fill="#d0e2f2"/><rect x="461" y="324" width="12" height="12" fill="#eff6fc"/><rect x="473" y="324" width="12" height="12" fill="#cde0f1"/><rect x="485" y="324" width="12" height="12" fill="#d1e2f3"/><rect x="497" y="324" width="12" height="12" fill="#cddff1"/><rect x="509" y="324" width="12" height="12" fill="#e4eff9"/><rect x="521" y="324" width="12" height="12" fill="#e0ecf8"/><rect x="533" y="324" width="12" height="12" fill="#d0e1f2"/><rect x="545" y="324" width="12" height="12" fill="#e3eef8"/><rect x="557" y="324" width="12" height="12" fill="#f5f9fe"/><rect x="569" y="324" width="12" height="12" fill="#e5eff9"/><rect x="581" y="324" width="12" height="12" fill="#f5f9fe"/><rect x="593" y="324" width="12" height="12" fill="#d7e6f5"/><rect x="605" y="324" width="12" height="12" fill="#95c5df"/><rect x="617" y="324" width="12" height="12" fill="#cee0f2"/><rect x="629" y="324" width="12" height="12" fill="#eef5fc"/>
<rect x="449" y="336" width="12" height="12" fill="#dce9f6"/><rect x="461" y="336" width="12" height="12" fill="#f5fafe"/><rect x="473" y="336" width="12" height="12" fill="#dfebf7"/><rect x="485" y="336" width="12" height="12" fill="#f2f8fd"/><rect x="497" y="336" width="12" height="12" fill="#e3eef8"/><rect x="509" y="336" width="12" height="12" fill="#e7f1fa"/><rect x="521" y="336" width="12" height="12" fill="#e0ecf8"/><rect x="533" y="336" width="12" height="12" fill="#dceaf6"/><rect x="545" y="336" width="12" height="12" fill="#e4eff9"/><rect x="557" y="336" width="48" height="12" fill="#f3f8fe"/><rect x="605" y="336" width="12" height="12" fill="#e7f1fa"/><rect x="617" y="336" width="12" height="12" fill="#71b1d7"/><rect x="629" y="336" width="12" height="12" fill="#cadef0"/>
<rect x="461" y="348" width="12" height="12" fill="#eaf2fb"/><rect x="473" y="348" width="12" height="12" fill="#eff6fc"/><rect x="485" y="348" width="12" height="12" fill="#c2d9ee"/><rect x="497" y="348" width="24" height="12" fill="#ecf4fb"/><rect x="521" y="348" width="12" height="12" fill="#f2f8fd"/><rect x="533" y="348" width="12" height="12" fill="#f3f8fe"/><rect x="545" y="348" width="12" height="12" fill="#e7f1fa"/><rect x="557" y="348" width="12" height="12" fill="#bad6eb"/><rect x="569" y="348" width="12" height="12" fill="#c8dcf0"/><rect x="581" y="348" width="12" height="12" fill="#eaf3fb"/><rect x="593" y="348" width="12" height="12" fill="#c6dbef"/><rect x="605" y="348" width="12" height="12" fill="#08478d"/><rect x="617" y="348" width="12" height="12" fill="#a9cfe5"/><rect x="629" y="348" width="12" height="12" fill="#79b5d9"/>
<rect x="473" y="360" width="12" height="12" fill="#f2f8fd"/><rect x="485" y="360" width="24" height="12" fill="#f5f9fe"/><rect x="509" y="360" width="12" height="12" fill="#eef5fc"/><rect x="521" y="360" width="12" height="12" fill="#e7f0fa"/><rect x="533" y="360" width="12" height="12" fill="#ecf4fb"/><rect x="545" y="360" width="12" height="12" fill="#e3eef9"/><rect x="557" y="360" width="12" height="12" fill="#f5f9fe"/><rect x="569" y="360" width="12" height="12" fill="#eef5fc"/><rect x="581" y="360" width="12" height="12" fill="#f3f8fe"/><rect x="593" y="360" width="12" height="12" fill="#eff6fc"/><rect x="605" y="360" width="12" height="12" fill="#e7f1fa"/><rect x="617" y="360" width="12" height="12" fill="#c1d9ed"/><rect x="629" y="360" width="12" height="12" fill="#e0ecf8"/>
<rect x="485" y="372" width="12" height="12" fill="#c6dbef"/><rect x="497" y="372" width="12" height="12" fill="#f2f8fd"/><rect x="509" y="372" width="36" height="12" fill="#eef5fc"/><rect x="545" y="372" width="12" height="12" fill="#eaf2fb"/><rect x="557" y="372" width="12" height="12" fill="#abd0e6"/><rect x="569" y="372" width="12" height="12" fill="#cee0f2"/><rect x="581" y="372" width="12" height="12" fill="#dae8f6"/><rect x="593" y="372" width="12" height="12" fill="#c2d9ee"/><rect x="605" y="372" width="12" height="12" fill="#084285"/><rect x="617" y="372" width="12" height="12" fill="#8fc2de"/><rect x="629" y="372" width="12" height="12" fill="#6caed6"/>
<rect x="497" y="384" width="12" height="12" fill="#cde0f1"/><rect x="509" y="384" width="12" height="12" fill="#d0e1f2"/><rect x="521" y="384" width="24" height="12" fill="#c2d9ee"/><rect x="545" y="384" width="12" height="12" fill="#cadef0"/><rect x="557" y="384" width="12" height="12" fill="#dce9f6"/><rect x="569" y="384" width="12" height="12" fill="#e7f1fa"/><rect x="581" y="384" width="12" height="12" fill="#f2f7fd"/><rect x="593" y="384" width="12" height="12" fill="#f5f9fe"/><rect x="605" y="384" width="12" height="12" fill="#dfebf7"/><rect x="617" y="384" width="12" height="12" fill="#ebf3fb"/><rect x="629" y="384" width="12" height="12" fill="#f5f9fe"/>
<rect x="509" y="396" width="12" height="12" fill="#f2f8fd"/><rect x="521" y="396" width="24" height="12" fill="#eef5fc"/><rect x="545" y="396" width="12" height="12" fill="#f5f9fe"/><rect x="557" y="396" width="12" height="12" fill="#b2d2e8"/><rect x="569" y="396" width="12" height="12" fill="#d3e3f3"/><rect x="581" y="396" width="12" height="12" fill="#d9e8f5"/><rect x="593" y="396" width="12" height="12" fill="#cee0f2"/><rect x="605" y="396" width="12" height="12" fill="#1764ab"/><rect x="617" y="396" width="12" height="12" fill="#bad6eb"/><rect x="629" y="396" width="12" height="12" fill="#9cc9e1"/>
<rect x="521" y="408" width="24" height="12" fill="#eef5fc"/><rect x="545" y="408" width="12" height="12" fill="#f5f9fe"/><rect x="557" y="408" width="12" height="12" fill="#dceaf6"/><rect x="569" y="408" width="12" height="12" fill="#d4e4f4"/><rect x="581" y="408" width="12" height="12" fill="#eff6fc"/><rect x="593" y="408" width="12" height="12" fill="#d4e4f4"/><rect x="605" y="408" width="12" height="12" fill="#3f8fc5"/><rect x="617" y="408" width="12" height="12" fill="#eaf2fb"/><rect x="629" y="408" width="12" height="12" fill="#c8dcf0"/>
<rect x="533" y="420" width="12" height="12" fill="#f5f9fe"/><rect x="545" y="420" width="12" height="12" fill="#ecf4fb"/><rect x="557" y="420" width="12" height="12" fill="#d9e7f5"/><rect x="569" y="420" width="12" height="12" fill="#cddff1"/><rect x="581" y="420" width="12" height="12" fill="#eef5fc"/><rect x="593" y="420" width="12" height="12" fill="#cee0f2"/><rect x="605" y="420" width="12" height="12" fill="#125da6"/><rect x="617" y="420" width="12" height="12" fill="#d3e4f3"/><rect x="629" y="420" width="12" height="12" fill="#a9cfe5"/>
<rect x="545" y="432" width="12" height="12" fill="#e4eff9"/><rect x="557" y="432" width="12" height="12" fill="#afd1e7"/><rect x="569" y="432" width="12" height="12" fill="#c7dcef"/><rect x="581" y="432" width="12" height="12" fill="#eef5fc"/><rect x="593" y="432" width="12" height="12" fill="#c1d9ed"/><rect x="605" y="432" width="12" height="12" fill="#08306b"/><rect x="617" y="432" width="12" height="12" fill="#8dc1dd"/><rect x="629" y="432" width="12" height="12" fill="#6aaed6"/>
<rect x="557" y="444" width="12" height="12" fill="#d1e2f3"/><rect x="569" y="444" width="12" height="12" fill="#c7dcef"/><rect x="581" y="444" width="12" height="12" fill="#d4e4f4"/><rect x="593" y="444" width="12" height="12" fill="#e4eff9"/><rect x="605" y="444" width="12" height="12" fill="#63a8d3"/><rect x="617" y="444" width="12" height="12" fill="#dce9f6"/><rect x="629" y="444" width="12" height="12" fill="#ebf3fb"/>
<rect x="569" y="456" width="12" height="12" fill="#eef5fc"/><rect x="581" y="456" width="12" height="12" fill="#f5f9fe"/><rect x="593" y="456" width="12" height="12" fill="#e0ecf8"/><rect x="605" y="456" width="12" height="12" fill="#9fcae1"/><rect x="617" y="456" width="12" height="12" fill="#a8cee4"/><rect x="629" y="456" width="12" height="12" fill="#ebf3fb"/>
<rect x="581" y="468" width="12" height="12" fill="#e1edf8"/><rect x="593" y="468" width="12" height="12" fill="#c6dbef"/><rect x="605" y="468" width="12" height="12" fill="#cee0f2"/><rect x="617" y="468" width="12" height="12" fill="#0a549e"/><rect x="629" y="468" width="12" height="12" fill="#74b3d8"/>
<rect x="593" y="480" width="12" height="12" fill="#f1f7fd"/><rect x="605" y="480" width="12" height="12" fill="#c3daee"/><rect x="617" y="480" width="12" height="12" fill="#d3e3f3"/><rect x="629" y="480" width="12" height="12" fill="#f1f7fd"/>
<rect x="605" y="492" width="12" height="12" fill="#eef5fc"/><rect x="617" y="492" width="12" height="12" fill="#eff6fc"/><rect x="629" y="492" width="12" height="12" fill="#f5f9fe"/>
<rect x="617" y="504" width="12" height="12" fill="#f3f8fe"/><rect x="629" y="504" width="12" height="12" fill="#f5f9fe"/>
<rect x="629" y="516" width="12" height="12" fill="#f5f9fe"/>

</g>
<rect x="159" y="58" width="483" height="2" fill="#fff" class="c"/>
<path class="t" d="M166.5 61V66.6M166.5 540V534.4M161 66.5H166.6M640 66.5H634.4M178.5 61V66.6M178.5 540V534.4M161 78.5H166.6M640 78.5H634.4M190.5 61V66.6M190.5 540V534.4M161 90.5H166.6M640 90.5H634.4M202.5 61V66.6M202.5 540V534.4M161 102.5H166.6M640 102.5H634.4M214.5 61V66.6M214.5 540V534.4M161 114.5H166.6M640 114.5H634.4M226.5 61V66.6M226.5 540V534.4M161 126.5H166.6M640 126.5H634.4M238.5 61V66.6M238.5 540V534.4M161 138.5H166.6M640 138.5H634.4M250.5 61V66.6M250.5 540V534.4M161 150.5H166.6M640 150.5H634.4M262.5 61V66.6M262.5 540V534.4M161 162.5H166.6M640 162.5H634.4M274.5 61V66.6M274.5 540V534.4M161 174.5H166.6M640 174.5H634.4M286.5 61V66.6M286.5 540V534.4M161 186.5H166.6M640 186.5H634.4M298.5 61V66.6M298.5 540V534.4M161 198.5H166.6M640 198.5H634.4M310.5 61V66.6M310.5 540V534.4M161 210.5H166.6M640 210.5H634.4M322.5 61V66.6M322.5 540V534.4M161 222.5H166.6M640 222.5H634.4M334.5 61V66.6M334.5 540V534.4M161 234.5H166.6M640 234.5H634.4M346.5 61V66.6M346.5 540V534.4M161 246.5H166.6M640 246.5H634.4M358.5 61V66.6M358.5 540V534.4M161 258.5H166.6M640 258.5H634.4M370.5 61V66.6M370.5 540V534.4M161 270.5H166.6M640 270.5H634.4M382.5 61V66.6M382.5 540V534.4M161 282.5H166.6M640 282.5H634.4M394.5 61V66.6M394.5 540V534.4M161 294.5H166.6M640 294.5H634.4M406.5 61V66.6M406.5 540V534.4M161 306.5H166.6M640 306.5H634.4M418.5 61V66.6M418.5 540V534.4M161 318.5H166.6M640 318.5H634.4M430.5 61V66.6M430.5 540V534.4M161 330.5H166.6M640 330.5H634.4M442.5 61V66.6M442.5 540V534.4M161 342.5H166.6M640 342.5H634.4M454.5 61V66.6M454.5 540V534.4M161 354.5H166.6M640 354.5H634.4M466.5 61V66.6M466.5 540V534.4M161 366.5H166.6M640 366.5H634.4M478.5 61V66.6M478.5 540V534.4M161 378.5H166.6M640 378.5H634.4M490.5 61V66.6M490.5 540V534.4M161 390.5H166.6M640 390.5H634.4M502.5 61V66.6M502.5 540V534.4M161 402.5H166.6M640 402.5H634.4M514.5 61V66.6M514.5 540V534.4M161 414.5H166.6M640 414.5H634.4M526.5 61V66.6M526.5 540V534.4M161 426.5H166.6M640 426.5H634.4M538.5 61V66.6M538.5 540V534.4M161 438.5H166.6M640 438.5H634.4M550.5 61V66.6M550.5 540V534.4M161 450.5H166.6M640 450.5H634.4M562.5 61V66.6M562.5 540V534.4M161 462.5H166.6M640 462.5H634.4M574.5 61V66.6M574.5 540V534.4M161 474.5H166.6M640 474.5H634.4M586.5 61V66.6M586.5 540V534.4M161 486.5H166.6M640 486.5H634.4M598.5 61V66.6M598.5 540V534.4M161 498.5H166.6M640 498.5H634.4M610.5 61V66.6M610.5 540V534.4M161 510.5H166.6M640 510.5H634.4M622.5 61V66.6M622.5 540V534.4M161 522.5H166.6M640 522.5H634.4M634.5 61V66.6M634.5 540V534.4M161 534.5H166.6M640 534.5H634.4"/>
<rect class="f" x="160.5" y="60.5" width="480" height="480"/>
<text x="153.99 164.72 175.13" y="54">C1'</text><text x="213.99 224.72 235.13" y="54">C4'</text><text x="274.96 286.23" y="54">N3</text><text x="333.25 345.47 355.87" y="54">O4'</text><text x="393.99 404.72 415.13" y="54">C1'</text><text x="453.99 464.72 475.13" y="54">C4'</text><text x="514.96 526.23" y="54">N3</text><text x="573.25 585.47 595.87" y="54">O4'</text>
<text x="129.98 140.71 151.72" y="72">C1'</text><text x="129.98 140.71 151.72" y="132">C4'</text><text x="133.33 144.60" y="192">N3</text><text x="128.99 140.71 151.72" y="252">O4'</text><text x="129.98 140.71 151.72" y="312">C1'</text><text x="129.98 140.71 151.72" y="372">C4'</text><text x="133.33 144.60" y="432">N3</text><text x="128.99 140.71 151.72" y="492">O4'</text>
<defs><linearGradient id="g" x1="0" y1="1" x2="0" y2="0"><stop offset="0.0000" stop-color="#f7fbff"/><stop offset="0.1250" stop-color="#deebf7"/><stop offset="0.2500" stop-color="#c6dbef"/><stop offset="0.3750" stop-color="#9ecae1"/><stop offset="0.5000" stop-color="#6baed6"/><stop offset="0.6250" stop-color="#4292c6"/><stop offset="0.7500" stop-color="#2171b5"/><stop offset="0.8750" stop-color="#08519c"/><stop offset="1.0000" stop-color="#08306b"/></linearGradient></defs>
<rect x="680.5" y="60.5" width="16.0" height="480" fill="url(#g)"/>
<path class="t" d="M696.5 540.50H690.5M696.5 487.50H690.5M696.5 435.50H690.5M696.5 382.50H690.5M696.5 329.50H690.5M696.5 277.50H690.5M696.5 224.50H690.5M696.5 171.50H690.5M696.5 119.50H690.5M696.5 66.50H690.5"/>
<rect class="f" x="680.5" y="60.5" width="16.0" height="480"/>
<text x="701.0 710.8 715.9 726.3" y="546">0.00</text><text x="701.0 710.8 715.9 726.3" y="493">0.04</text><text x="701.0 710.8 715.9 726.3" y="441">0.08</text><text x="701.0 710.8 715.9 726.3" y="388">0.12</text><text x="701.0 710.8 715.9 726.3" y="335">0.16</text><text x="701.0 710.8 715.9 726.3" y="283">0.20</text><text x="701.0 710.8 715.9 726.3" y="230">0.24</text><text x="701.0 710.8 715.9 726.3" y="177">0.28</text><text x="701.0 710.8 715.9 726.3" y="125">0.32</text><text x="701.0 710.8 715.9 726.3" y="72">0.36</text>
</svg>
</body></html>
